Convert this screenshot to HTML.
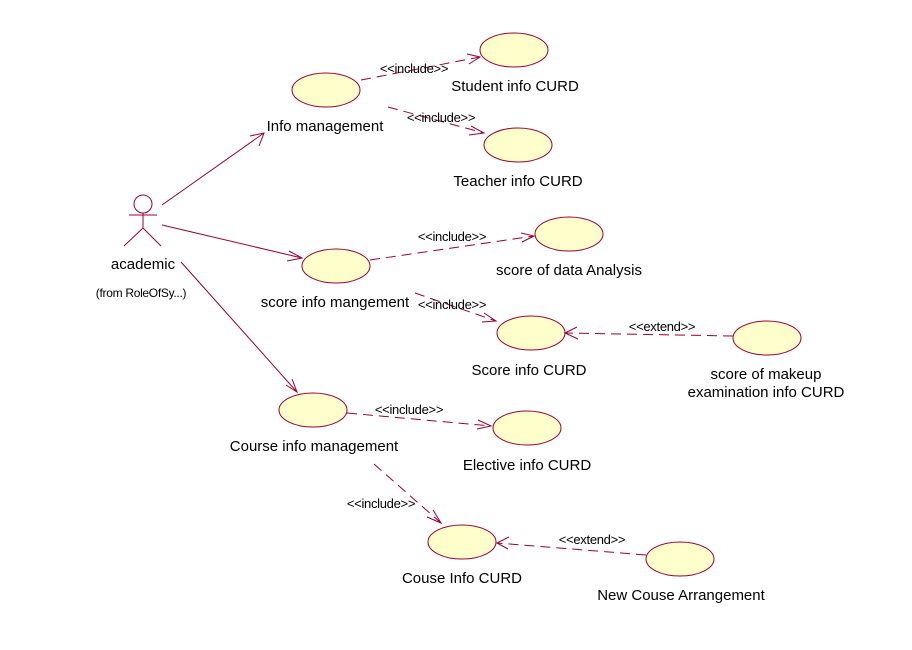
<!DOCTYPE html>
<html><head><meta charset="utf-8"><style>
html,body{margin:0;padding:0;background:#fff;}
svg{display:block;font-family:"Liberation Sans",Arial,sans-serif;}
.e{fill:#ffffcc;stroke:#990033;stroke-width:1;}
.l{stroke:#990033;stroke-width:1;fill:none;}
.d{stroke:#990033;stroke-width:1;fill:none;stroke-dasharray:10,6;}
.t{font-size:15px;fill:#000;text-anchor:middle;}
.s{font-size:13px;fill:#000;text-anchor:middle;letter-spacing:-0.3px;}
</style></head><body>
<svg width="912" height="650" viewBox="0 0 912 650">
<circle cx="143" cy="204" r="9" class="l"/>
<line x1="129" y1="215" x2="157" y2="215" class="l"/>
<line x1="143" y1="213" x2="143" y2="228" class="l"/>
<line x1="143" y1="228" x2="124" y2="246" class="l"/>
<line x1="143" y1="228" x2="161" y2="246" class="l"/>
<text x="143" y="269" class="t">academic</text>
<text x="141" y="297" class="s" style="font-size:12px">(from RoleOfSy...)</text>

<ellipse cx="326" cy="90" rx="34" ry="17" class="e"/>
<ellipse cx="514" cy="50" rx="34" ry="17" class="e"/>
<ellipse cx="518" cy="145" rx="34" ry="17" class="e"/>
<ellipse cx="336" cy="266" rx="34" ry="17" class="e"/>
<ellipse cx="569" cy="234" rx="34" ry="17" class="e"/>
<ellipse cx="531" cy="333" rx="34" ry="17" class="e"/>
<ellipse cx="767" cy="338" rx="34" ry="17" class="e"/>
<ellipse cx="313" cy="410" rx="34" ry="17" class="e"/>
<ellipse cx="527" cy="428" rx="34" ry="17" class="e"/>
<ellipse cx="462" cy="542" rx="34" ry="17" class="e"/>
<ellipse cx="680" cy="559" rx="34" ry="17" class="e"/>

<text x="325" y="131" class="t">Info management</text>
<text x="515" y="91" class="t">Student info CURD</text>
<text x="518" y="186" class="t">Teacher info CURD</text>
<text x="335" y="307" class="t">score info mangement</text>
<text x="569" y="275" class="t">score of data Analysis</text>
<text x="529" y="375" class="t">Score info CURD</text>
<text x="766" y="379" class="t">score of makeup</text>
<text x="766" y="397" class="t">examination info CURD</text>
<text x="314" y="451" class="t">Course info management</text>
<text x="527" y="470" class="t">Elective info CURD</text>
<text x="462" y="583" class="t">Couse Info CURD</text>
<text x="681" y="600" class="t">New Couse Arrangement</text>

<line x1="162" y1="205" x2="264" y2="133" class="l"/>
<polyline points="250,136 264,133 259,146" class="l"/>
<line x1="162" y1="225" x2="302" y2="258" class="l"/>
<polyline points="289,251 302,258 287,261" class="l"/>
<line x1="181" y1="262" x2="297" y2="392" class="l"/>
<polyline points="286,385 297,392 292,379" class="l"/>

<line x1="361" y1="80" x2="480" y2="57" class="d"/>
<polyline points="467,54 480,57 469,64" class="l"/>
<text x="414" y="73" class="s">&lt;&lt;include&gt;&gt;</text>

<line x1="388" y1="107" x2="484" y2="133" class="d"/>
<polyline points="471,126 484,133 469,135" class="l"/>
<text x="441" y="122" class="s">&lt;&lt;include&gt;&gt;</text>

<line x1="370" y1="260" x2="534" y2="236" class="d"/>
<polyline points="521,233 534,236 522,242" class="l"/>
<text x="452" y="241" class="s">&lt;&lt;include&gt;&gt;</text>

<line x1="415" y1="293" x2="496" y2="321" class="d"/>
<polyline points="484,313 496,321 482,322" class="l"/>
<text x="452" y="309" class="s">&lt;&lt;include&gt;&gt;</text>

<line x1="733" y1="336" x2="565" y2="333" class="d"/>
<polyline points="577,327 565,333 578,339" class="l"/>
<text x="662" y="331" class="s">&lt;&lt;extend&gt;&gt;</text>

<line x1="347" y1="413" x2="491" y2="426" class="d"/>
<polyline points="478,420 491,426 477,429" class="l"/>
<text x="409" y="414" class="s">&lt;&lt;include&gt;&gt;</text>

<line x1="374" y1="464" x2="441" y2="523" class="d"/>
<polyline points="433,510 441,523 427,517" class="l"/>
<text x="381" y="508" class="s">&lt;&lt;include&gt;&gt;</text>

<line x1="646" y1="555" x2="497" y2="543" class="d"/>
<polyline points="509,537 497,543 508,549" class="l"/>
<text x="592" y="544" class="s">&lt;&lt;extend&gt;&gt;</text>
</svg>
</body></html>
